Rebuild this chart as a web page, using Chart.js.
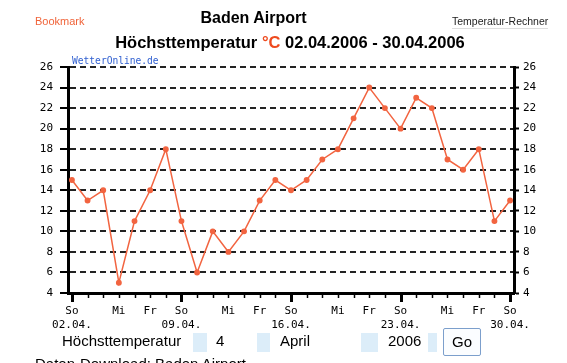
<!DOCTYPE html>
<html>
<head>
<meta charset="utf-8">
<script src="https://cdn.jsdelivr.net/npm/chart.js@4"></script>
<style>
  html, body { margin: 0; padding: 0; background: #fff; }
  body { width: 567px; height: 363px; position: relative; overflow: hidden; font-family: "Liberation Sans", Arial, sans-serif; }
  #wrap { position: absolute; left: 0; top: 0; width: 567px; height: 363px; }
  .t { position: absolute; white-space: nowrap; }
  .box { position: absolute; background: #dcedf9; }
</style>
</head>
<body>
<div id="wrap"><canvas id="tempChart" width="567" height="363"></canvas></div>

<div class="t" style="left:35px; top:15px; font-size:11px; color:#f0643a;">Bookmark</div>
<div class="t" style="left:0; width:507px; top:9px; text-align:center; font-size:16px; font-weight:bold;">Baden Airport</div>
<div class="t" style="left:452px; top:15px; font-size:10.5px; color:#222; border-bottom:1px solid #ddd; line-height:13px;">Temperatur-Rechner</div>
<div class="t" style="left:0; width:580px; top:33px; text-align:center; font-size:16.5px; font-weight:bold;">Höchsttemperatur <span style="color:#ee4a1e;">°C</span> 02.04.2006 - 30.04.2006</div>
<div class="t" style="left:72px; top:55px; font-family:'DejaVu Sans Mono', monospace; font-size:9.6px; color:#2f5fd0;">WetterOnline.de</div>

<div class="t" style="left:62px; top:332px; font-size:15px;">Höchsttemperatur</div>
<div class="box" style="left:193px; top:333px; width:14px; height:19px;"></div>
<div class="t" style="left:216px; top:332px; font-size:15px;">4</div>
<div class="box" style="left:257px; top:333px; width:13px; height:19px;"></div>
<div class="t" style="left:280px; top:332px; font-size:15px;">April</div>
<div class="box" style="left:361px; top:333px; width:17px; height:19px;"></div>
<div class="t" style="left:388px; top:332px; font-size:15px;">2006</div>
<div class="box" style="left:428px; top:333px; width:9px; height:19px;"></div>
<div class="t" style="left:443px; top:328px; width:36px; height:26px; border:1px solid #7c9fcc; border-radius:2px; background:#fbfdff; font-size:15px; text-align:center; line-height:26px;">Go</div>
<div class="t" style="left:35px; top:355px; font-size:15px;">Daten-Download: Baden Airport</div>

<script>
// Tageshöchstwerte Baden Airport, April 2006
const dates = ['02.04.', '03.04.', '04.04.', '05.04.', '06.04.', '07.04.', '08.04.',
               '09.04.', '10.04.', '11.04.', '12.04.', '13.04.', '14.04.', '15.04.',
               '16.04.', '17.04.', '18.04.', '19.04.', '20.04.', '21.04.', '22.04.',
               '23.04.', '24.04.', '25.04.', '26.04.', '27.04.', '28.04.', '29.04.',
               '30.04.'];
const weekdays = ['So', 'Mo', 'Di', 'Mi', 'Do', 'Fr', 'Sa',
                  'So', 'Mo', 'Di', 'Mi', 'Do', 'Fr', 'Sa',
                  'So', 'Mo', 'Di', 'Mi', 'Do', 'Fr', 'Sa',
                  'So', 'Mo', 'Di', 'Mi', 'Do', 'Fr', 'Sa',
                  'So'];
const highs = [15, 13, 14, 5, 11, 14, 18,
               11, 6, 10, 8, 10, 13, 15,
               14, 15, 17, 18, 21, 24, 22,
               20, 23, 22, 17, 16, 18, 11,
               13];
const yTicks = [4, 6, 8, 10, 12, 14, 16, 18, 20, 22, 24, 26];

const lineColor = '#f26440';
const monoFont = { family: "'DejaVu Sans Mono', monospace", size: 11 };

// kurze Tagesstriche, lange Striche am Sonntag
const dayTicks = {
    id: 'dayTicks',
    afterDraw(chart) {
        const ctx = chart.ctx;
        const x = chart.scales.x;
        const y0 = chart.chartArea.bottom;
        ctx.save();
        ctx.strokeStyle = '#000';
        dates.forEach((d, i) => {
            const px = Math.round(x.getPixelForValue(i)) + 0.5;
            const sunday = weekdays[i] === 'So';
            ctx.lineWidth = sunday ? 3 : 1.5;
            ctx.beginPath();
            ctx.moveTo(px, y0);
            ctx.lineTo(px, y0 + (sunday ? 9 : 5));
            ctx.stroke();
        });
        ctx.restore();
    }
};

const yAxisBase = {
    type: 'linear',
    min: 4,
    max: 26,
    afterBuildTicks: s => { s.ticks = yTicks.map(v => ({ value: v })); },
    ticks: { font: monoFont, color: '#000' }
};

new Chart(document.getElementById('tempChart'), {
    type: 'line',
    data: {
        datasets: [{
            data: highs.map((v, i) => ({ x: i, y: v })),
            borderColor: lineColor,
            backgroundColor: lineColor,
            borderWidth: 1.5,
            pointRadius: 2.2,
            pointHoverRadius: 2.2,
            tension: 0,
            yAxisID: 'y'
        }]
    },
    options: {
        responsive: false,
        animation: false,
        events: [],
        layout: { padding: { top: 67, left: 0, right: 0, bottom: 0 } },
        plugins: { legend: { display: false }, tooltip: { enabled: false } },
        scales: {
            x: {
                type: 'linear',
                min: -0.25,
                max: 28.25,
                afterBuildTicks: s => { s.ticks = dates.map((d, i) => ({ value: i })); },
                afterFit: s => { s.height = 70; },
                grid: { display: false, drawTicks: false },
                border: { display: true, width: 3, color: '#000' },
                ticks: {
                    autoSkip: false,
                    maxRotation: 0,
                    padding: 12,
                    font: monoFont,
                    color: '#000',
                    callback: (v) => {
                        const wd = weekdays[v];
                        if (wd === 'So') return [wd, dates[v]];
                        if (wd === 'Mi' || wd === 'Fr') return wd;
                        return '';
                    }
                }
            },
            y: Object.assign({}, yAxisBase, {
                position: 'left',
                afterFit: s => { s.width = 68; },
                grid: {
                    drawOnChartArea: true,
                    color: c => (c.tick && c.tick.value === 4) ? 'rgba(0,0,0,0)' : '#222',
                    lineWidth: 2,
                    tickColor: '#000',
                    tickWidth: 2,
                    tickLength: 8
                },
                border: { display: true, width: 3, color: '#000', dash: [6, 4] },
                ticks: { font: monoFont, color: '#000', padding: 7 }
            }),
            y2: Object.assign({}, yAxisBase, {
                position: 'right',
                afterFit: s => { s.width = 53; },
                grid: { drawOnChartArea: false, tickColor: '#000', tickWidth: 2, tickLength: 5 },
                border: { display: true, width: 3, color: '#000' },
                ticks: { font: monoFont, color: '#000', padding: 4 }
            })
        }
    },
    plugins: [dayTicks]
});
</script>
</body>
</html>
